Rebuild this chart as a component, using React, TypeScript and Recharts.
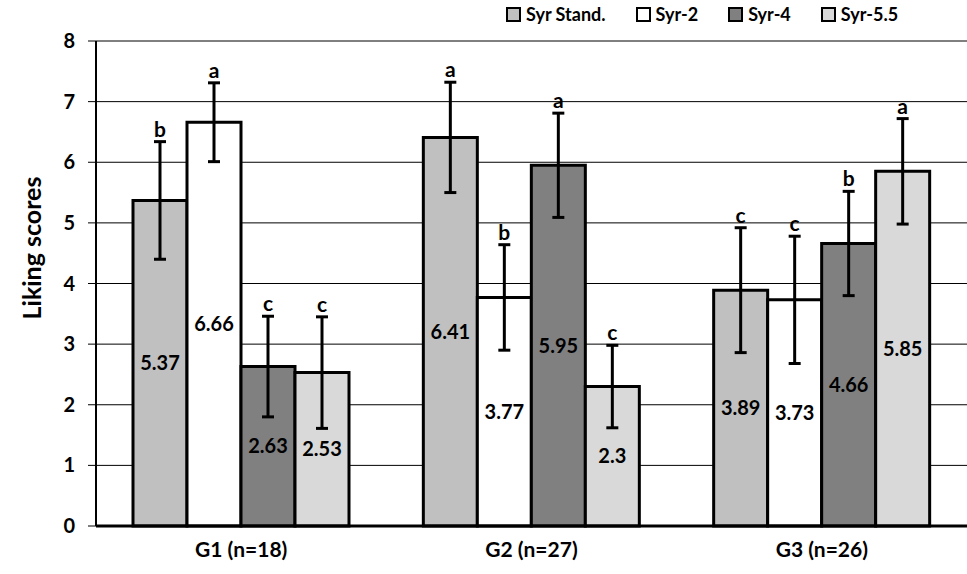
import { BarChart, Bar, XAxis, YAxis, CartesianGrid, ErrorBar, LabelList, Legend } from "recharts"

const categories = ["G1 (n=18)", "G2 (n=27)", "G3 (n=26)"]
const seriesNames = ["Syr Stand.", "Syr-2", "Syr-4", "Syr-5.5"]
const seriesColors = ["#c0c0c0", "#ffffff", "#808080", "#d9d9d9"]

const standValues = [5.37, 6.41, 3.89]
const syr2Values = [6.66, 3.77, 3.73]
const syr4Values = [2.63, 5.95, 4.66]
const syr55Values = [2.53, 2.3, 5.85]

const standErrors = [0.97, 0.91, 1.03]
const syr2Errors = [0.65, 0.87, 1.05]
const syr4Errors = [0.83, 0.86, 0.86]
const syr55Errors = [0.92, 0.68, 0.87]

const standLetters = ["b", "a", "c"]
const syr2Letters = ["a", "b", "c"]
const syr4Letters = ["c", "a", "b"]
const syr55Letters = ["c", "c", "a"]

const yTicks = [0, 1, 2, 3, 4, 5, 6, 7, 8]

const FONT = "Lato, 'Open Sans', sans-serif"

const values = [standValues, syr2Values, syr4Values, syr55Values]
const errors = [standErrors, syr2Errors, syr4Errors, syr55Errors]
const letters = [standLetters, syr2Letters, syr4Letters, syr55Letters]

const data = categories.map((name, i) => {
  const row: Record<string, string | number> = { name }
  values.forEach((v, s) => {
    row[`v${s}`] = v[i]
    row[`e${s}`] = errors[s][i]
    row[`l${s}`] = letters[s][i]
  })
  return row
})

// letter sits just above the top whisker; whisker top derived from bar geometry
function letterLabel(s: number) {
  return (props: any) => {
    const { x, y, width, height, index, value } = props
    const val = values[s][index]
    const top = y - (errors[s][index] * height) / val
    return (
      <text
        x={x + width / 2}
        y={top - 5}
        textAnchor="middle"
        fontFamily={FONT}
        fontWeight={700}
        fontSize={21}
        fill="#000"
      >
        {value}
      </text>
    )
  }
}

function LegendBox() {
  return (
    <div style={{ display: "flex", alignItems: "center", height: 22, fontFamily: FONT, fontWeight: 700, fontSize: 18, color: "#000" }}>
      {seriesNames.map((n, i) => (
        <div key={n} style={{ display: "flex", alignItems: "center", marginRight: 30 }}>
          <span
            style={{
              display: "inline-block",
              width: 11,
              height: 11,
              border: "2px solid #000",
              background: seriesColors[i],
              marginRight: 5,
            }}
          />
          <span>{n}</span>
        </div>
      ))}
    </div>
  )
}

function YLabel() {
  return (
    <text
      x={31}
      y={248}
      transform="rotate(-90 31 248)"
      textAnchor="middle"
      dominantBaseline="central"
      fontFamily={FONT}
      fontWeight={700}
      fontSize={25}
      fill="#000"
    >
      Liking scores
    </text>
  )
}

export default function App() {
  return (
    <div style={{ position: "absolute", left: 0, top: 0, width: 967, height: 574, background: "#fff" }}>
      <BarChart
        width={967}
        height={574}
        data={data}
        margin={{ top: 19, right: 0, bottom: 0, left: 0 }}
        barCategoryGap={37}
        barGap={0}
      >
        <CartesianGrid vertical={false} stroke="#000" strokeWidth={1} />
        <Legend
          verticalAlign="top"
          align="right"
          content={<LegendBox />}
          wrapperStyle={{ top: 3, left: 506, width: 460, height: 22 }}
        />
        <XAxis
          dataKey="name"
          height={48}
          tickLine={false}
          axisLine={{ stroke: "#000", strokeWidth: 3 }}
          tickMargin={10}
          tick={{ fontFamily: FONT, fontWeight: 700, fontSize: 21, fill: "#000" }}
        />
        <YAxis
          width={96}
          domain={[0, 8]}
          ticks={yTicks}
          interval={0}
          tickSize={8}
          tickMargin={13}
          tickLine={{ stroke: "#000", strokeWidth: 1 }}
          axisLine={{ stroke: "#000", strokeWidth: 2 }}
          tick={{ fontFamily: FONT, fontWeight: 700, fontSize: 20, fill: "#000" }}
          label={<YLabel />}
        />
        {seriesNames.map((n, s) => (
          <Bar
            key={n}
            dataKey={`v${s}`}
            name={n}
            fill={seriesColors[s]}
            stroke="#000"
            strokeWidth={3}
            isAnimationActive={false}
          >
            <LabelList
              dataKey={`v${s}`}
              position="center"
              fontFamily={FONT}
              fontWeight={700}
              fontSize={20}
              fill="#000"
            />
            <ErrorBar
              dataKey={`e${s}`}
              direction="y"
              width={6}
              strokeWidth={3}
              stroke="#000"
              isAnimationActive={false}
            />
            <LabelList dataKey={`l${s}`} content={letterLabel(s)} />
          </Bar>
        ))}
      </BarChart>
    </div>
  )
}
